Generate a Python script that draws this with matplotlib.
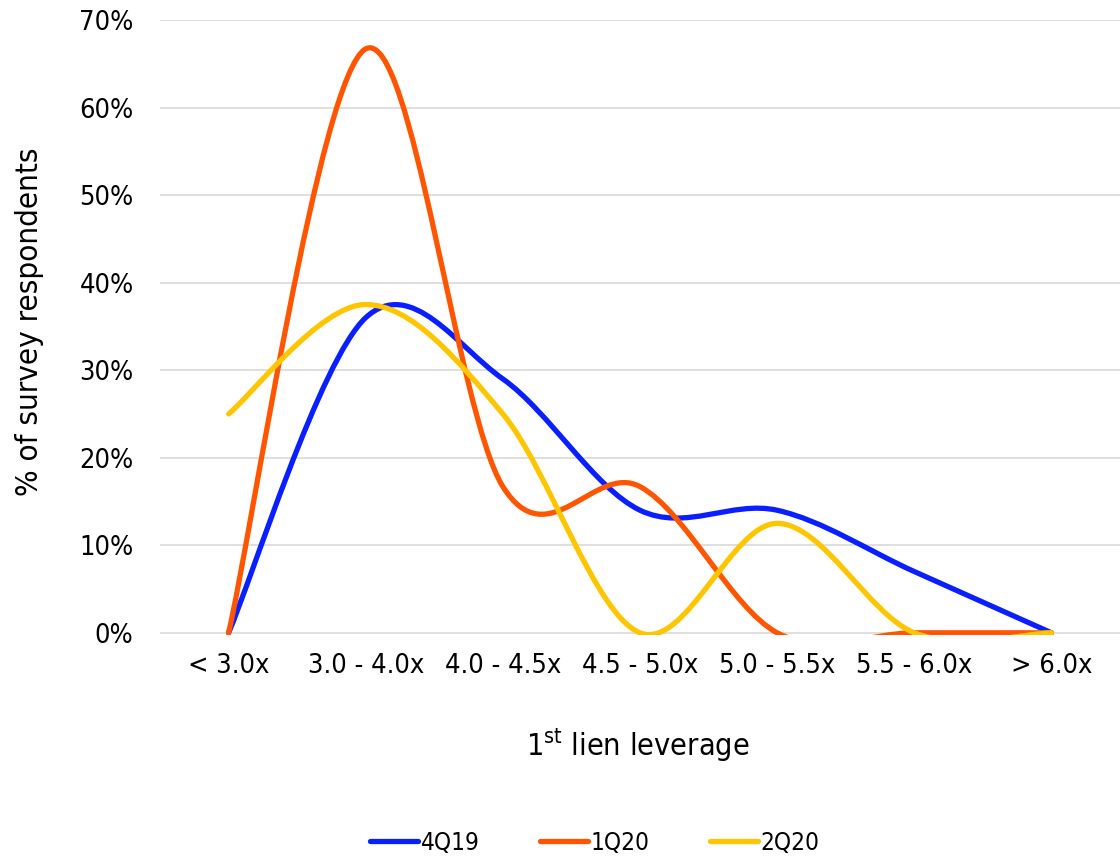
import matplotlib
matplotlib.use("Agg")
import matplotlib.pyplot as plt
from matplotlib.path import Path
from matplotlib.patches import PathPatch
from matplotlib.lines import Line2D
from matplotlib import font_manager

# Survey data: share of respondents by 1st lien leverage bucket
categories = ["< 3.0x", "3.0 - 4.0x", "4.0 - 4.5x", "4.5 - 5.0x",
              "5.0 - 5.5x", "5.5 - 6.0x", "> 6.0x"]
q4_19 = [0.0, 36.0, 29.0, 14.0, 14.0, 7.0, 0.0]
q1_20 = [0.0, 66.7, 16.7, 16.7, 0.0, 0.0, 0.0]
q2_20 = [25.0, 37.5, 25.0, 0.0, 12.5, 0.0, 0.0]
series_names = ["4Q19", "1Q20", "2Q20"]
series_colors = ["#0a1fff", "#ff5500", "#ffc600"]
yticks = [0, 10, 20, 30, 40, 50, 60, 70]

# Use the condensed cut of DejaVu Sans when it is installed
stretch = "normal"
cond = [f for f in font_manager.fontManager.ttflist
        if f.name == "DejaVu Sans" and "ondensed" in str(f.stretch) + f.fname]
if cond:
    stretch = "condensed"
plt.rcParams["font.family"] = "DejaVu Sans"
plt.rcParams["font.stretch"] = stretch

W, H = 1120, 859
fig = plt.figure(figsize=(W / 100, H / 100), dpi=100)
ax = fig.add_axes([160 / W, 1 - 635 / H, 960 / W, 615 / H])


def smooth_path(xs, ys):
    """Cubic Bezier path through the points (Catmull-Rom style tangents)."""
    pts = list(zip(xs, ys))
    n = len(pts)
    verts = [pts[0]]
    codes = [Path.MOVETO]
    for i in range(n - 1):
        p0 = pts[i - 1] if i > 0 else pts[i]
        p1 = pts[i]
        p2 = pts[i + 1]
        p3 = pts[i + 2] if i + 2 < n else pts[i + 1]
        c1 = (p1[0] + (p2[0] - p0[0]) / 6, p1[1] + (p2[1] - p0[1]) / 6)
        c2 = (p2[0] - (p3[0] - p1[0]) / 6, p2[1] - (p3[1] - p1[1]) / 6)
        verts += [c1, c2, p2]
        codes += [Path.CURVE4] * 3
    return Path(verts, codes)


xs = list(range(len(categories)))
handles = []
for name, vals, col in zip(series_names, [q4_19, q1_20, q2_20], series_colors):
    patch = PathPatch(smooth_path(xs, vals), facecolor="none", edgecolor=col,
                      linewidth=3.8, capstyle="round", joinstyle="round",
                      transform=ax.transData, zorder=3)
    ax.add_patch(patch)
    handles.append(Line2D([], [], color=col, linewidth=3.8,
                          solid_capstyle="round", label=name))

ax.set_xlim(-0.5, len(categories) - 0.5)
ax.set_ylim(-0.25, 70)
ax.set_yticks(yticks)
ax.set_yticklabels([f"{v}%" for v in yticks])
ax.set_xticks(xs)
ax.set_xticklabels(categories)
ax.tick_params(length=0, labelsize=19.5, colors="black")
ax.tick_params(axis="y", pad=19)
ax.tick_params(axis="x", pad=13)
ax.grid(axis="y", color="#d9d9d9", linewidth=1.2, zorder=0)
ax.set_axisbelow(True)
for s in ax.spines.values():
    s.set_visible(False)

fig.text(30 / W, 1 - 322 / H, "% of survey respondents", rotation=90,
         ha="center", va="center", fontsize=22.5)
fig.text(638 / W, 1 - 745 / H, r"1$^{\mathregular{st}}$ lien leverage",
         ha="center", va="center", fontsize=22)

fig.legend(handles=handles, loc="center", bbox_to_anchor=(595 / W, 1 - 843 / H),
           ncol=3, frameon=False, fontsize=17.5, handlelength=1.95,
           handletextpad=0.12, columnspacing=2.5)

fig.savefig("out.png", dpi=100, facecolor="white")
